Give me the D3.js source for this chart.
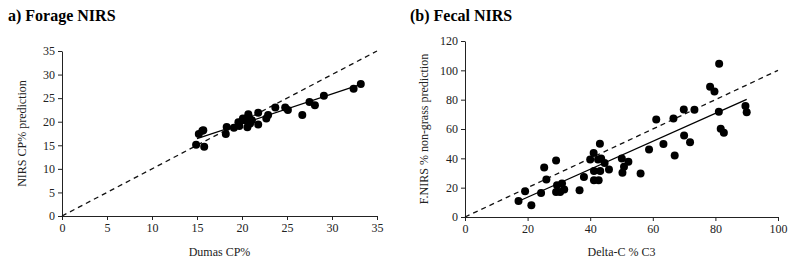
<!DOCTYPE html>
<html>
<head>
<meta charset="utf-8">
<script src="https://cdn.jsdelivr.net/npm/d3@7"></script>
<style>
  body { margin: 0; background: #fff; }
  svg { display: block; font-family: "Liberation Serif", "Times New Roman", serif; }
</style>
</head>
<body>
<script>
// panel a: Dumas CP% vs NIRS CP% prediction
const foragePts = [
  [14.9, 15.1], [15.2, 17.4], [15.6, 18.1], [15.7, 18.2], [15.8, 14.7],
  [18.3, 18.9], [18.2, 17.4], [19.1, 18.7], [19.6, 19.9], [19.7, 19.1],
  [20.1, 20.7], [20.3, 20.3], [20.6, 18.8], [20.7, 21.6], [20.8, 20.9],
  [20.9, 19.6], [21.1, 20.3], [21.8, 21.9], [21.8, 19.4], [22.7, 20.7],
  [22.9, 21.4], [23.7, 23.0], [24.8, 23.0], [25.1, 22.5], [26.7, 21.4],
  [27.5, 24.2], [28.1, 23.5], [29.1, 25.5], [32.4, 27.0], [33.2, 28.0]
];
const forageFit = [[15.0, 16.4], [33.2, 27.9]];
const forageOneToOne = [[0, 0], [35, 35]];
const forageTicks = [0, 5, 10, 15, 20, 25, 30, 35];

// panel b: Delta-C % C3 vs F.NIRS % non-grass prediction
const fecalPts = [
  [17.1, 10.9], [19.2, 17.6], [21.2, 8.0], [24.3, 16.4], [25.3, 33.7],
  [26.0, 25.5], [29.1, 38.5], [29.4, 21.6], [29.1, 17.1], [30.4, 17.1],
  [31.0, 22.8], [31.7, 18.7], [36.6, 18.2], [38.0, 27.3], [40.0, 39.2],
  [41.1, 43.7], [41.2, 31.4], [41.2, 25.1], [42.5, 39.2], [42.7, 25.1],
  [43.1, 49.9], [43.2, 31.4], [43.5, 39.9], [44.6, 36.9], [46.0, 32.4],
  [50.1, 39.9], [50.3, 30.1], [50.8, 34.2], [52.2, 37.6], [56.1, 29.6],
  [58.8, 46.0], [61.1, 66.5], [63.4, 49.7], [66.6, 67.2], [67.0, 41.9],
  [69.9, 73.3], [70.0, 55.6], [71.9, 51.0], [73.3, 73.1], [78.3, 88.8],
  [79.7, 85.6], [81.2, 104.5], [81.1, 71.7], [81.7, 60.1], [82.7, 57.4],
  [89.6, 75.6], [90.0, 71.5]
];
const fecalFit = [[18.0, 11.6], [90.0, 80.2]];
const fecalOneToOne = [[0, 0], [100, 100]];
const fecalXTicks = [0, 20, 40, 60, 80, 100];
const fecalYTicks = [0, 20, 40, 60, 80, 100, 120];

const serif = "'Liberation Serif', 'Times New Roman', serif";

const svg = d3.select("body").append("svg")
  .attr("width", 792)
  .attr("height", 268);

function drawPanel(opt) {
  var x = d3.scaleLinear().domain(opt.xDomain).range([opt.left, opt.right]);
  var y = d3.scaleLinear().domain(opt.yDomain).range([opt.bottom, opt.top]);

  svg.append("text")
    .attr("x", opt.titleX).attr("y", 21)
    .attr("font-family", serif)
    .attr("font-size", 16).attr("font-weight", "bold")
    .attr("fill", "#000")
    .text(opt.title);

  var xa = svg.append("g")
    .attr("transform", "translate(0," + opt.bottom + ")")
    .call(d3.axisBottom(x).tickValues(opt.xTicks).tickSize(4).tickSizeOuter(0).tickPadding(3));
  var ya = svg.append("g")
    .attr("transform", "translate(" + opt.left + ",0)")
    .call(d3.axisLeft(y).tickValues(opt.yTicks).tickSize(4).tickSizeOuter(0).tickPadding(3));
  [xa, ya].forEach(a => {
    a.attr("font-family", serif).attr("font-size", 12);
    a.selectAll("path, line").attr("stroke", "#222");
    a.selectAll("text").attr("fill", "#222");
  });

  svg.append("text")
    .attr("x", (opt.left + opt.right) / 2).attr("y", 256)
    .attr("font-family", serif)
    .attr("text-anchor", "middle").attr("font-size", 12).attr("fill", "#222")
    .text(opt.xLabel);
  svg.append("text")
    .attr("transform", "translate(" + opt.yLabelX + "," + (opt.top + opt.bottom) / 2 + ") rotate(-90)")
    .attr("font-family", serif)
    .attr("text-anchor", "middle").attr("font-size", 12).attr("fill", "#222")
    .text(opt.yLabel);

  var line = d3.line().x(d => x(d[0])).y(d => y(d[1]));
  svg.append("path")
    .attr("d", line(opt.oneToOne))
    .attr("fill", "none").attr("stroke", "#111")
    .attr("stroke-width", 1.3).attr("stroke-dasharray", "5,4");

  svg.append("g").selectAll("circle")
    .data(opt.points)
    .enter()
    .append("circle")
    .attr("cx", d => x(d[0]))
    .attr("cy", d => y(d[1]))
    .attr("r", 4)
    .style("fill", "#000");

  svg.append("path")
    .attr("d", line(opt.fit))
    .attr("fill", "none").attr("stroke", "#000")
    .attr("stroke-width", 1.3);
}

drawPanel({
  title: "a) Forage NIRS", titleX: 8,
  xDomain: [0, 35], yDomain: [0, 35],
  left: 62, right: 377, top: 51, bottom: 216,
  xTicks: forageTicks, yTicks: forageTicks,
  xLabel: "Dumas CP%", yLabel: "NIRS CP% prediction", yLabelX: 26,
  points: foragePts, fit: forageFit, oneToOne: forageOneToOne
});

drawPanel({
  title: "(b) Fecal NIRS", titleX: 410,
  xDomain: [0, 100], yDomain: [0, 120],
  left: 465, right: 778, top: 41, bottom: 217,
  xTicks: fecalXTicks, yTicks: fecalYTicks,
  xLabel: "Delta-C % C3", yLabel: "F.NIRS % non-grass prediction", yLabelX: 428,
  points: fecalPts, fit: fecalFit, oneToOne: fecalOneToOne
});
</script>
</body>
</html>
